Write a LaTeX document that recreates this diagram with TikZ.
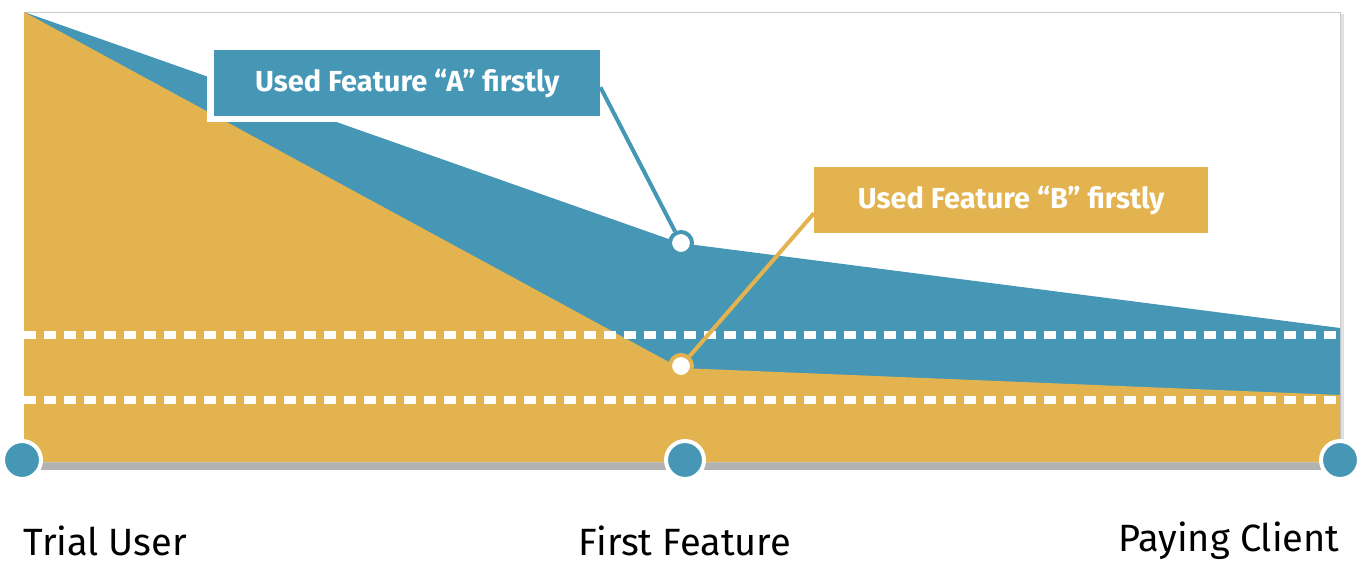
\documentclass[tikz,border=0pt]{standalone}
\usepackage{fontspec}
\setmainfont{Fira Sans}
\definecolor{cblue}{HTML}{4597B5}
\definecolor{cyel}{HTML}{E2B34F}
\begin{document}
\begin{tikzpicture}[x=1pt,y=-1pt,
  lbl/.style={font=\fontsize{29}{34}\selectfont\bfseries, text=white, inner sep=0pt, minimum height=66pt, anchor=north west},
  dot/.style={circle, draw=white, line width=4pt, fill=cblue, minimum size=38pt, inner sep=0pt},
  pin/.style={circle, fill=white, line width=4pt, minimum size=22pt, inner sep=0pt},
  axis/.style={font=\fontsize{38}{44}\selectfont},
  wdash/.style={draw=white, line width=8pt, dash pattern=on 12pt off 8pt}]
\useasboundingbox (0,0) rectangle (1363,563);
% shadow and frame
\fill[black!30] (26,462) rectangle (1344,470);
\fill[black!12] (1340,14) rectangle (1344,466);
\draw[black!20, line width=1pt] (24,12) rectangle (1340,462);
% areas
\fill[cblue] (24,12) -- (680,243) -- (1340,328) -- (1340,462) -- (24,462) -- cycle;
\fill[cyel] (24,12) -- (680,368) -- (1340,395) -- (1340,462) -- (24,462) -- cycle;
% dashed lines
\coordinate (d1a) at (24,335); \coordinate (d1b) at (1340,335);
\coordinate (d2a) at (24,400); \coordinate (d2b) at (1340,400);
\draw[wdash] (d1a) -- (d1b);
\draw[wdash] (d2a) -- (d2b);
% label A
\fill[white] (207,57) rectangle (593,122);
\node[lbl, fill=cblue, minimum width=386pt] (la) at (214,50) {\hspace*{22pt}Used Feature “A” firstly\hspace*{22pt}};
\node[pin, draw=cblue] (pa) at (681,243) {};
\draw[cblue, line width=4pt] (la.east) ++(0,4) coordinate (lae) (lae) -- (pa);
% label B
\node[lbl, fill=cyel, minimum width=394pt] (lb) at (814,167) {\hspace*{25pt}Used Feature “B” firstly\hspace*{25pt}};
\node[pin, draw=cyel] (pb) at (681,366) {};
\draw[cyel, line width=4pt] (lb.west) ++(0,13) coordinate (lbw) (lbw) -- (pb);
% dots
\node[dot] (d0) at (22,460) {};
\node[dot] (d1) at (685,460) {};
\node[dot] (d2) at (1340,460) {};
% axis labels
\node[axis, anchor=west] (t0) at (20,541) {Trial User};
\node[axis] (t1) at (685,541) {First Feature};
\node[axis, anchor=east] (t2) at (1343,541) {Paying Client};
\end{tikzpicture}
\end{document}
